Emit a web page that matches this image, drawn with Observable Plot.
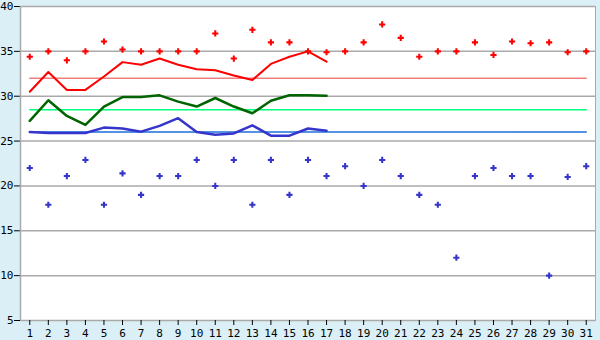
<!DOCTYPE html>
<html>
<head>
<meta charset="utf-8">
<script src="https://cdn.jsdelivr.net/npm/d3@7"></script>
<script src="https://cdn.jsdelivr.net/npm/@observablehq/plot@0.6"></script>
<style>
  html, body { margin: 0; padding: 0; background: #daeff6; }
  #chart { width: 600px; height: 340px; }
</style>
</head>
<body>
<div id="chart"></div>
<script>
const days = d3.range(1, 32);
const maxTemps = [34.4, 35.0, 34.0, 35.0, 36.1, 35.2, 35.0, 35.0, 35.0, 35.0,
                  37.0, 34.2, 37.4, 36.0, 36.0, 35.0, 34.9, 35.0, 36.0, 38.0,
                  36.5, 34.4, 35.0, 35.0, 36.0, 34.6, 36.1, 35.9, 36.0, 34.9, 35.0];
const minTemps = [22.0, 17.9, 21.1, 22.9, 17.9, 21.4, 19.0, 21.1, 21.1, 22.9,
                  20.0, 22.9, 17.9, 22.9, 19.0, 22.9, 21.1, 22.2, 20.0, 22.9,
                  21.1, 19.0, 17.9, 12.0, 21.1, 22.0, 21.1, 21.1, 10.0, 21.0, 22.2];
const lineDays = d3.range(1, 18);
const redLine = [30.5, 32.7, 30.7, 30.7, 32.2, 33.8, 33.5, 34.2, 33.5, 33.0,
                 32.9, 32.3, 31.8, 33.6, 34.4, 35.0, 33.85];
const greenLine = [27.25, 29.55, 27.8, 26.8, 28.85, 29.9, 29.9, 30.1, 29.4, 28.85,
                   29.8, 28.85, 28.1, 29.5, 30.1, 30.1, 30.05];
const blueLine = [26.0, 25.9, 25.9, 25.9, 26.5, 26.4, 26.05, 26.7, 27.55, 26.0,
                  25.7, 25.85, 26.75, 25.6, 25.6, 26.4, 26.15];
const refLevels = [32, 28.5, 26];
const refColors = ["#f08080", "#00ff7f", "#1e6fdc"];
const yTicks = [5, 10, 15, 20, 25, 30, 35, 40];

const maxData = days.map((d, i) => ({day: d, v: maxTemps[i]}));
const minData = days.map((d, i) => ({day: d, v: minTemps[i]}));
const lineData = (arr) => lineDays.map((d, i) => ({day: d, v: arr[i]}));
const refData = [];
refLevels.forEach((lv, k) => {
  refData.push({day: days[0], v: lv, k});
  refData.push({day: days[days.length - 1], v: lv, k});
});

const chart = Plot.plot({
  width: 600,
  height: 340,
  marginLeft: 20,
  marginRight: 5,
  marginTop: 6,
  marginBottom: 20,
  style: {background: "transparent", fontFamily: "DejaVu Sans Mono, monospace", fontSize: "10px", color: "black"},
  x: {domain: [0.5, 31.5], label: null},
  y: {domain: [5, 40], label: null},
  marks: [
    Plot.frame({fill: "white", stroke: "#aaaaaa"}),
    Plot.ruleY(yTicks, {stroke: "#aaaaaa", strokeWidth: 1.5}),
    ...refLevels.map((lv, k) => Plot.line(refData.filter(r => r.k === k), {x: "day", y: "v", stroke: refColors[k], strokeWidth: 1.5})),
    Plot.line(lineData(redLine), {x: "day", y: "v", stroke: "#ff0000", strokeWidth: 2}),
    Plot.line(lineData(greenLine), {x: "day", y: "v", stroke: "#006400", strokeWidth: 2.5}),
    Plot.line(lineData(blueLine), {x: "day", y: "v", stroke: "#3535cc", strokeWidth: 2.5}),
    Plot.dot(maxData, {x: "day", y: "v", symbol: "cross", r: 2.6, fill: "#ff0000", stroke: "none"}),
    Plot.dot(minData, {x: "day", y: "v", symbol: "cross", r: 2.6, fill: "#3535cc", stroke: "none"}),
    Plot.axisX({ticks: days, tickFormat: d => String(d), tickSize: 5, tickPadding: 4, stroke: "black", fontSize: 11}),
    Plot.axisY({ticks: yTicks, tickSize: 6, tickPadding: 1, stroke: "black", fontSize: 11}),
    Plot.ruleX([0.5], {stroke: "#aaaaaa", strokeWidth: 1.5})
  ]
});
document.getElementById("chart").appendChild(chart);
</script>
</body>
</html>
